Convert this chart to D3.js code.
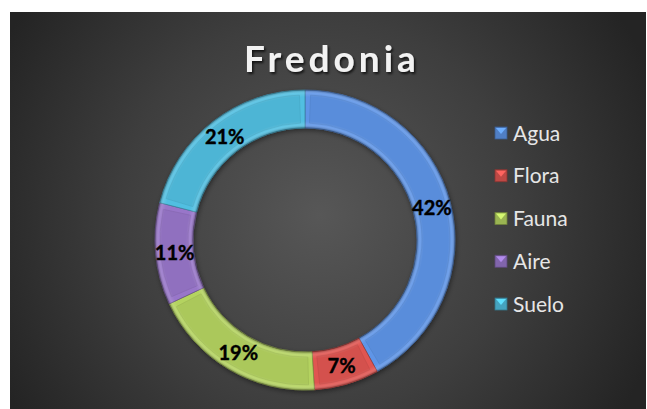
<!DOCTYPE html>
<html>
<head>
<meta charset="utf-8">
<script src="https://cdn.jsdelivr.net/npm/d3@7"></script>
<style>
  body { margin: 0; background: #fff; }
  svg { display: block; }
</style>
</head>
<body>
<script>
// chart data
var categories = ["Agua", "Flora", "Fauna", "Aire", "Suelo"];
var values = [42, 7, 19, 11, 21];
var colors = ["#598ddb", "#d4514d", "#abc85b", "#9070bf", "#4db5d5"];
var title = "Fredonia";

var width = 647, height = 409;
var cx = 305, cy = 240;
var outerR = 150, innerR = 112;

var svg = d3.select("body").append("svg")
    .attr("width", width)
    .attr("height", height);

var defs = svg.append("defs");

// background gradient
var bg = defs.append("radialGradient")
    .attr("id", "bg")
    .attr("gradientUnits", "userSpaceOnUse")
    .attr("cx", 320).attr("cy", 215).attr("r", 360);
bg.append("stop").attr("offset", "0").attr("stop-color", "#575757");
bg.append("stop").attr("offset", "0.55").attr("stop-color", "#3e3e3e");
bg.append("stop").attr("offset", "1").attr("stop-color", "#242424");

svg.append("rect")
    .attr("x", 10).attr("y", 12)
    .attr("width", 636).attr("height", 397)
    .attr("fill", "url(#bg)");

// ring shading overlay (bevel), centred on the donut's own origin
var ring = defs.append("radialGradient")
    .attr("id", "ringShade")
    .attr("gradientUnits", "userSpaceOnUse")
    .attr("cx", 0).attr("cy", 0).attr("r", outerR);
[
    [innerR / outerR, "#000", 0.3],
    [(innerR + 3) / outerR, "#fff", 0.12],
    [(innerR + 7) / outerR, "#fff", 0.0],
    [(outerR - 7) / outerR, "#fff", 0.0],
    [(outerR - 3) / outerR, "#fff", 0.12],
    [1, "#000", 0.3]
].forEach(function(s) {
    ring.append("stop").attr("offset", s[0]).attr("stop-color", s[1]).attr("stop-opacity", s[2]);
});

var shadow = defs.append("filter").attr("id", "tshadow")
    .attr("x", "-10%").attr("y", "-20%").attr("width", "130%").attr("height", "150%");
shadow.append("feDropShadow")
    .attr("dx", 1.5).attr("dy", 2).attr("stdDeviation", 1.2)
    .attr("flood-color", "#000").attr("flood-opacity", 0.7);

var ringShadow = defs.append("filter").attr("id", "rshadow")
    .attr("x", "-10%").attr("y", "-10%").attr("width", "120%").attr("height", "120%");
ringShadow.append("feDropShadow")
    .attr("dx", 1).attr("dy", 2).attr("stdDeviation", 2.5)
    .attr("flood-color", "#000").attr("flood-opacity", 0.45);

// title
svg.append("text")
    .attr("x", 332).attr("y", 72)
    .attr("text-anchor", "middle")
    .attr("font-family", "Lato, 'Open Sans', sans-serif")
    .attr("font-weight", "bold")
    .attr("font-size", 37)
    .attr("letter-spacing", 4)
    .attr("fill", "#f2f2f2")
    .attr("filter", "url(#tshadow)")
    .text(title);

// donut
var pie = d3.pie().sort(null).value(function(d) { return d; });
var arcs = pie(values);
var arc = d3.arc().innerRadius(innerR).outerRadius(outerR);
var faceArc = d3.arc().innerRadius(innerR + 5).outerRadius(outerR - 5);
var midArc = d3.arc().innerRadius((innerR + outerR) / 2).outerRadius((innerR + outerR) / 2);

var g = svg.append("g").attr("transform", "translate(" + cx + "," + cy + ")");

var slices = g.append("g").attr("filter", "url(#rshadow)");
slices.selectAll("path.base")
    .data(arcs)
    .enter().append("path")
    .attr("class", "base")
    .attr("d", arc)
    .attr("fill", function(d, i) { return d3.color(colors[i]).brighter(0.15); })
    .attr("stroke", function(d, i) { return d3.color(colors[i]).darker(0.9); })
    .attr("stroke-width", 0.7);

g.selectAll("path.face")
    .data(arcs)
    .enter().append("path")
    .attr("class", "face")
    .attr("d", function(d) {
        var pad = 5 / ((innerR + outerR) / 2);
        return faceArc({ startAngle: d.startAngle + pad, endAngle: d.endAngle - pad });
    })
    .attr("fill", function(d, i) { return colors[i]; })
    .attr("stroke", function(d, i) { return d3.color(colors[i]).darker(0.25); })
    .attr("stroke-width", 0.6);

// radial bevel shading
g.append("path")
    .attr("d", arc({ startAngle: 0, endAngle: 2 * Math.PI }))
    .attr("fill", "url(#ringShade)")
    .attr("pointer-events", "none");

// labels
g.selectAll("text.lbl")
    .data(arcs)
    .enter().append("text")
    .attr("class", "lbl")
    .attr("transform", function(d) { return "translate(" + midArc.centroid(d) + ")"; })
    .attr("text-anchor", "middle")
    .attr("dy", "0.36em")
    .attr("font-family", "Lato, 'Open Sans', sans-serif")
    .attr("font-weight", "bold")
    .attr("font-size", 20)
    .attr("fill", "#000")
    .attr("stroke", "#000")
    .attr("stroke-width", 0.4)
    .text(function(d) { return Math.round(d.data) + "%"; });

// legend
var legendY = d3.scalePoint().domain(categories).range([133, 304]);
var legend = svg.append("g");
var items = legend.selectAll("g")
    .data(categories)
    .enter().append("g")
    .attr("transform", function(d) { return "translate(495," + legendY(d) + ")"; });

items.append("rect")
    .attr("x", 0).attr("y", -6)
    .attr("width", 12).attr("height", 12)
    .attr("fill", function(d, i) { return d3.color(colors[i]).darker(0.3); })
    .attr("stroke", function(d, i) { return d3.color(colors[i]).darker(1.2); })
    .attr("stroke-width", 0.8);
items.append("path")
    .attr("d", "M1,-5L11,-5L6,1Z")
    .attr("fill", function(d, i) { return d3.color(colors[i]).brighter(0.6); });

items.append("text")
    .attr("x", 18)
    .attr("dy", "0.36em")
    .attr("font-family", "Lato, 'Open Sans', sans-serif")
    .attr("font-size", 21)
    .attr("fill", "#e6e6e6")
    .text(function(d) { return d; });
</script>
</body>
</html>
